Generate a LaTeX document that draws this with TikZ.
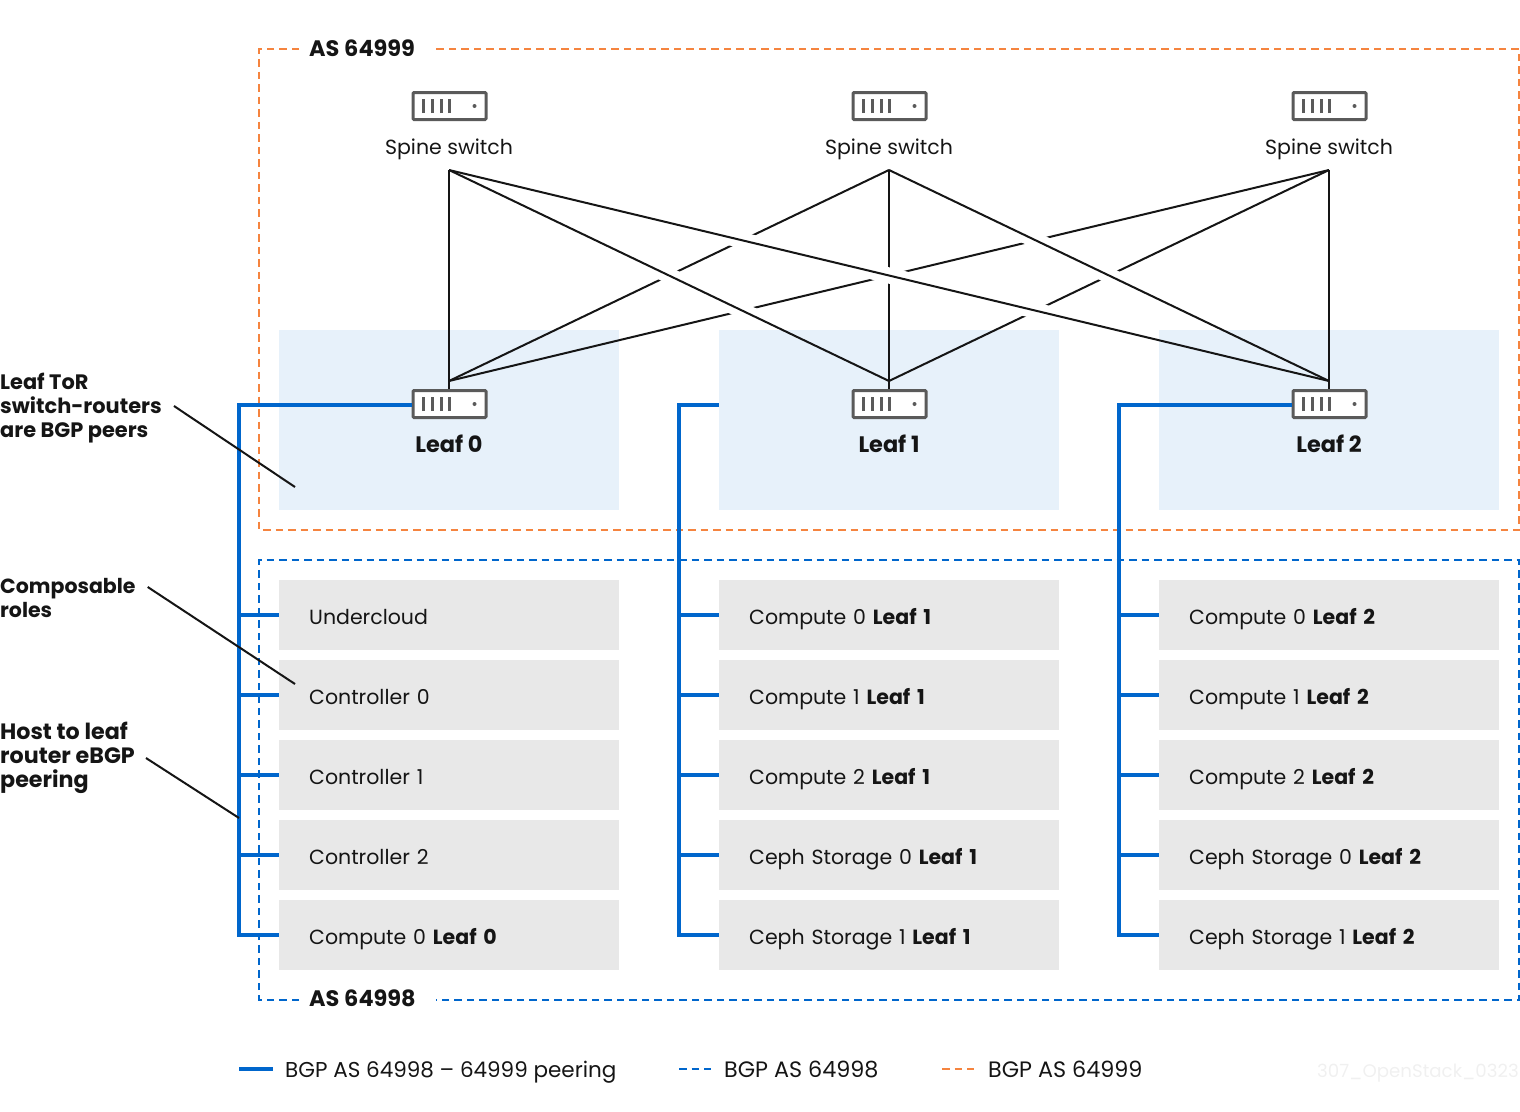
\documentclass[tikz,border=0pt]{standalone}
\usepackage{fontspec}
\setmainfont{Poppins}
\usepackage{tikz}
\usetikzlibrary{matrix, calc}
\definecolor{rhblue}{HTML}{0066CC}
\definecolor{rhorange}{HTML}{F5843F}
\definecolor{zoneblue}{HTML}{E7F1FA}
\definecolor{rolegrey}{HTML}{E8E8E8}
\definecolor{inkblack}{HTML}{151515}
\definecolor{icongrey}{HTML}{5A5A5A}
\newcommand{\bodyfont}{\fontsize{20.5}{24}\selectfont}
\newcommand{\bigfont}{\fontsize{22.4}{24}\selectfont}
\tikzset{
  txt/.style={font=\bodyfont, text=inkblack, inner sep=0pt},
  boldtxt/.style={txt, font=\bodyfont\bfseries},
  headtxt/.style={txt, font=\bigfont\bfseries},
  fabric/.style={inkblack, line width=2pt},
  halo/.style={white, line width=16pt},
  peering/.style={rhblue, line width=4pt},
  asblue/.style={rhblue, line width=2pt, dash pattern=on 7.5pt off 5pt},
  asorange/.style={rhorange, line width=2pt, dash pattern=on 7.5pt off 5pt},
  zone/.style={fill=zoneblue, minimum width=340pt, minimum height=180pt, inner sep=0pt},
  switchbox/.style={draw=icongrey, fill=white, line width=3pt, rounded corners=1pt, minimum width=73pt, minimum height=27pt, inner sep=0pt,
    path picture={
      \foreach \dx in {-26,-17.5,-8.5,0} \draw[icongrey, line width=3pt, sharp corners] ([xshift=\dx pt, yshift=-7pt]path picture bounding box.center) -- ([xshift=\dx pt, yshift=7pt]path picture bounding box.center);
      \fill[icongrey] ([xshift=25pt]path picture bounding box.center) circle (2pt);
    }},
}

\begin{document}
\begin{tikzpicture}[x=1pt, y=-1pt]
\useasboundingbox (0,0) rectangle (1520,1111);
% leaf zones
\node[zone] (zone0) at (449,420) {};
\node[zone] (zone1) at (889,420) {};
\node[zone] (zone2) at (1329,420) {};
% AS boxes
\draw[asorange] (299,49) -- (259,49) -- (259,530) -- (1519,530) -- (1519,49) -- (436,49);
\draw[asblue] (299,1000) -- (259,1000) -- (259,560) -- (1519,560) -- (1519,1000) -- (436,1000);
\node[headtxt, anchor=base west] (as99) at (309,56.5) {AS 64999};
\node[headtxt, anchor=base west] (as98) at (309,1006.5) {AS 64998};
% switches
\node[switchbox] (spine0) at (449.5,106) {};
\node[switchbox] (spine1) at (889.5,106) {};
\node[switchbox] (spine2) at (1329.5,106) {};
\node[txt, anchor=base] (spinetxt0) at (449,154) {Spine switch};
\node[txt, anchor=base] (spinetxt1) at (889,154) {Spine switch};
\node[txt, anchor=base] (spinetxt2) at (1329,154) {Spine switch};
\coordinate (s0) at (449,170);
\coordinate (s1) at (889,170);
\coordinate (s2) at (1329,170);
\coordinate (l0) at (449,381);
\coordinate (l1) at (889,381);
\coordinate (l2) at (1329,381);
% fabric, lower lines first
\draw[fabric] (s1) -- (l0);
\draw[fabric] (s2) -- (l0);
\draw[fabric] (s2) -- (l1);
\draw[fabric] (s1) -- (l1);
\draw[halo] ($(s0)!0.43!(l1)$) -- ($(s0)!0.72!(l1)$);
\draw[halo] ($(s0)!0.27!(l2)$) -- ($(s0)!0.72!(l2)$);
\draw[halo] ($(s1)!0.27!(l2)$) -- ($(s1)!0.68!(l2)$);
\draw[fabric] (s0) -- (l1);
\draw[fabric] (s0) -- (l2);
\draw[fabric] (s1) -- (l2);
\draw[fabric] (s0) -- (l0);
\draw[fabric] (s2) -- (l2);
\draw[fabric] (l0) -- (449,392);
\draw[fabric] (l1) -- (889,392);
\draw[fabric] (l2) -- (1329,392);
\node[switchbox] (leaf0) at (449.5,404) {};
\node[switchbox] (leaf1) at (889.5,404) {};
\node[switchbox] (leaf2) at (1329.5,404) {};
\node[headtxt, anchor=base] (leaftxt0) at (449,452) {Leaf 0};
\node[headtxt, anchor=base] (leaftxt1) at (889,452) {Leaf 1};
\node[headtxt, anchor=base] (leaftxt2) at (1329,452) {Leaf 2};
% roles
\matrix (M)[matrix of nodes, anchor=north west, inner sep=0pt, column sep=100pt, row sep=10pt, nodes={fill=rolegrey, anchor=center, align=left, minimum height=70pt, text width=280pt, inner xsep=30pt, inner ysep=0pt, text height=20pt, text depth=2pt, text=inkblack, font=\bodyfont}] at (279,580) {
Undercloud & Compute 0 \textbf{Leaf 1} & Compute 0 \textbf{Leaf 2} \\
Controller 0 & Compute 1 \textbf{Leaf 1} & Compute 1 \textbf{Leaf 2} \\
Controller 1 & Compute 2 \textbf{Leaf 1} & Compute 2 \textbf{Leaf 2} \\
Controller 2 & Ceph Storage 0 \textbf{Leaf 1} & Ceph Storage 0 \textbf{Leaf 2} \\
Compute 0 \textbf{Leaf 0} & Ceph Storage 1 \textbf{Leaf 1} & Ceph Storage 1 \textbf{Leaf 2} \\
};
% peering
\coordinate (tr0) at (239,405);
\coordinate (tr1) at (679,405);
\coordinate (tr2) at (1119,405);
\draw[peering] (leaf0.west |- tr0) -- (tr0) -- (tr0 |- M-5-1.west) -- (M-5-1.west);
\draw[peering] (zone1.west |- tr1) -- (tr1) -- (tr1 |- M-5-2.west) -- (M-5-2.west);
\draw[peering] (leaf2.west |- tr2) -- (tr2) -- (tr2 |- M-5-3.west) -- (M-5-3.west);
\draw[peering] (tr0 |- M-1-1.west) -- (M-1-1.west);
\draw[peering] (tr0 |- M-2-1.west) -- (M-2-1.west);
\draw[peering] (tr0 |- M-3-1.west) -- (M-3-1.west);
\draw[peering] (tr0 |- M-4-1.west) -- (M-4-1.west);
\draw[peering] (tr1 |- M-1-2.west) -- (M-1-2.west);
\draw[peering] (tr1 |- M-2-2.west) -- (M-2-2.west);
\draw[peering] (tr1 |- M-3-2.west) -- (M-3-2.west);
\draw[peering] (tr1 |- M-4-2.west) -- (M-4-2.west);
\draw[peering] (tr2 |- M-1-3.west) -- (M-1-3.west);
\draw[peering] (tr2 |- M-2-3.west) -- (M-2-3.west);
\draw[peering] (tr2 |- M-3-3.west) -- (M-3-3.west);
\draw[peering] (tr2 |- M-4-3.west) -- (M-4-3.west);
% callouts
\node[boldtxt, anchor=west, align=left, font=\fontsize{20.9}{24}\selectfont\bfseries] (notetor) at (0,408) {Leaf ToR\\switch-routers\\are BGP peers};
\node[boldtxt, anchor=west, align=left] (notecomp) at (0,598) {Composable\\roles};
\node[boldtxt, anchor=west, align=left, font=\fontsize{22.2}{24}\selectfont\bfseries] (notehost) at (0,758) {Host to leaf\\router eBGP\\peering};
\coordinate (endtor) at (295,487);
\coordinate (endcomp) at (295,684);
\coordinate (endhost) at (239,818);
\draw[fabric] ([xshift=12pt, yshift=2pt]notetor.east) -- (endtor);
\draw[fabric] ([xshift=12pt, yshift=11pt]notecomp.east) -- (endcomp);
\draw[fabric] ([xshift=11pt]notehost.east) -- (endhost);
% legend
\node[txt, anchor=base west, font=\fontsize{21.5}{24}\selectfont] (lg0) at (285,1077) {BGP AS 64998 -- 64999 peering};
\node[txt, anchor=base west, font=\fontsize{22.3}{24}\selectfont] (lg1) at (724,1077) {BGP AS 64998};
\node[txt, anchor=base west, font=\fontsize{22.3}{24}\selectfont] (lg2) at (988,1077) {BGP AS 64999};
\coordinate (lgy) at (0,1069);
\draw[peering] (239,0 |- lgy) -- (273,0 |- lgy);
\draw[asblue] (679,0 |- lgy) -- (711,0 |- lgy);
\draw[asorange] (942,0 |- lgy) -- (974,0 |- lgy);
\node[txt, anchor=base east, font=\fontsize{18.2}{24}\selectfont, text=black!6] (stamp) at (1519,1077) {307\_OpenStack\_0323};
\end{tikzpicture}
\end{document}
